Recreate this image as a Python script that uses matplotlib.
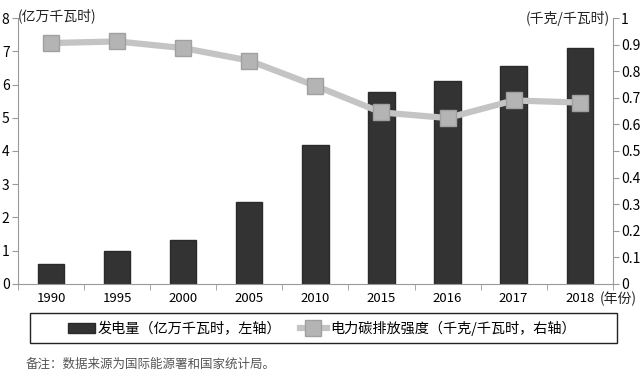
import numpy as np
import matplotlib
matplotlib.use("Agg")
from matplotlib import pyplot as plt
from matplotlib.patches import Rectangle

plt.rcParams['font.family'] = ['Noto Sans CJK SC', 'DejaVu Sans']

# Data
years = ["1990", "1995", "2000", "2005", "2010", "2015", "2016", "2017", "2018"]
generation = [0.6, 1.0, 1.33, 2.47, 4.18, 5.78, 6.1, 6.56, 7.1]      # 亿万千瓦时
intensity = [0.906, 0.912, 0.887, 0.84, 0.745, 0.645, 0.624, 0.69, 0.682]  # 千克/千瓦时

fig = plt.figure(figsize=(6.41, 3.76), dpi=100)
ax = fig.add_axes([0.028, 0.245, 0.928, 0.707])
ax2 = ax.twinx()

x = np.arange(len(years))
bars = ax.bar(x, generation, width=0.4, color='#333333', edgecolor='#2a2a2a', zorder=2)
line, = ax2.plot(x, intensity, '-s', color='#c4c4c4', lw=4.5, ms=11,
                 markerfacecolor='#b4b4b4', markeredgecolor='#a0a0a0', zorder=3)

ax.set_xlim(-0.5, len(years) - 0.5)
ax.set_ylim(0, 8)
ax2.set_ylim(0, 1)
ax.set_yticks(range(0, 9))
ax2.set_yticks(np.arange(0, 1.01, 0.1))
ax2.set_yticklabels(["0", "0.1", "0.2", "0.3", "0.4", "0.5", "0.6", "0.7", "0.8", "0.9", "1"])

ax.set_xticks(x)
ax.set_xticklabels(years)
ax.set_xticks(np.arange(-0.5, len(years), 1), minor=True)
ax.tick_params(axis='x', which='major', length=0, labelsize=9.5, pad=6)
ax.tick_params(axis='x', which='minor', length=4, color='#999999', direction='out')
ax.tick_params(axis='y', length=4, color='#999999', labelsize=10, pad=2)
ax2.tick_params(axis='y', length=4, color='#999999', labelsize=10, pad=2)

for a in (ax, ax2):
    a.spines['top'].set_visible(False)
    for s in ('left', 'right', 'bottom'):
        a.spines[s].set_color('#999999')
ax2.spines['left'].set_visible(False)
ax2.spines['bottom'].set_visible(False)
ax.spines['right'].set_visible(False)

# unit labels
fig.text(0.027, 0.958, "(亿万千瓦时)", fontsize=10, ha='left', va='center', color='#222222')
fig.text(0.952, 0.952, "(千克/千瓦时)", fontsize=10, ha='right', va='center', color='#222222')
fig.text(0.935, 0.205, "(年份)", fontsize=10, ha='left', va='center', color='#222222')

# legend with a wide box around it
leg = fig.legend([bars, line],
                 ["发电量（亿万千瓦时，左轴）", "电力碳排放强度（千克/千瓦时，右轴）"],
                 loc='center', bbox_to_anchor=(0.502, 0.127), ncol=2,
                 frameon=False, fontsize=10.2, columnspacing=1.3,
                 handlelength=1.9, handletextpad=0.2)
fig.patches.append(Rectangle((0.047, 0.088), 0.916, 0.08, transform=fig.transFigure,
                             fill=False, edgecolor='#222222', lw=1.0))

fig.text(0.04, 0.03, "备注：数据来源为国际能源署和国家统计局。", fontsize=9,
         color='#555555', ha='left', va='center')

fig.savefig("out.png", dpi=100)
